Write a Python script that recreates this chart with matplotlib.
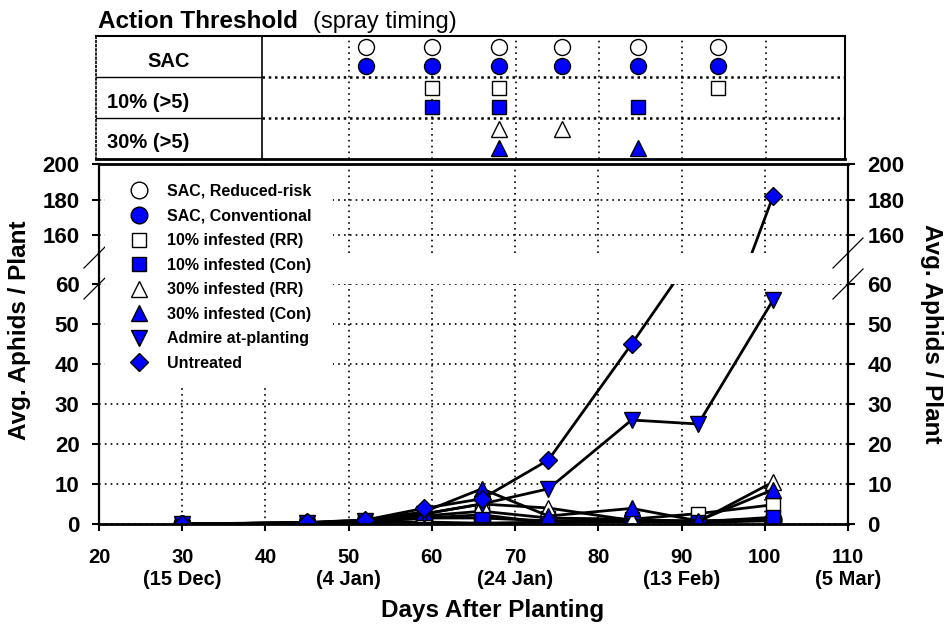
import numpy as np
import matplotlib.pyplot as plt
from matplotlib.lines import Line2D
from matplotlib.patches import Rectangle

plt.rcParams['font.family'] = ['Liberation Sans', 'DejaVu Sans']
plt.rcParams['font.weight'] = 'bold'

# sampling dates (days after planting)
days = [30, 45, 52, 59, 66, 74, 84, 92, 101]

# avg aphids per plant for each treatment
sac_rr = [0, 0.3, 0.5, 1.5, 1.5, 0.8, 1.0, 0.8, 1.2]
sac_con = [0, 0.2, 0.4, 0.5, 0.2, 0.5, 0.6, 0.4, 0.8]
ten_rr = [0, 0.3, 0.6, 2.0, 3.2, 1.5, 1.2, 2.6, 4.8]
ten_con = [0, 0.2, 0.5, 1.5, 2.3, 0.3, 0.8, 0.5, 1.7]
thirty_rr = [0, 0.3, 0.8, 2.5, 5.0, 4.0, 0.9, 0.6, 10.5]
thirty_con = [0, 0.3, 1.0, 3.0, 8.8, 2.0, 3.9, 0.8, 8.6]
admire = [0, 0.3, 0.8, 2.5, 5.0, 8.8, 26, 25, 56]
untreated = [0, 0.4, 1.0, 3.9, 6.3, 16, 45, 69, 182]

# spray timing (days after planting)
spray_sac_rr = [52, 60, 68, 75.6, 84.7, 94.3]
spray_sac_con = [52, 60, 68, 75.6, 84.7, 94.3]
spray_10_rr = [60, 68, 94.3]
spray_10_con = [60, 68, 84.7]
spray_30_rr = [68, 75.6]
spray_30_con = [68, 84.7]

xticks = [20, 30, 40, 50, 60, 70, 80, 90, 100, 110]
xticklabels = ['20', '30\n(15 Dec)', '40', '50\n(4 Jan)', '60', '70\n(24 Jan)',
               '80', '90\n(13 Feb)', '100', '110\n(5 Mar)']
row_labels = ['SAC', '10% (>5)', '30% (>5)']

BLUE = '#0000FF'
W, H = 946, 625


def fx(px):
    return px / W


def fy(py):
    return 1 - py / H


fig = plt.figure(figsize=(W / 100, H / 100), dpi=100)

ax_lo = fig.add_axes([fx(99), fy(524), (848 - 99) / W, (524 - 284) / H])
ax_hi = fig.add_axes([fx(99), fy(253), (848 - 99) / W, (253 - 164) / H])
ax_tb = fig.add_axes([fx(96), fy(159), (845 - 96) / W, (159 - 36) / H])

series = [
    (sac_rr, 'o', 'white', 12, 'SAC, Reduced-risk'),
    (sac_con, 'o', BLUE, 12, 'SAC, Conventional'),
    (ten_rr, 's', 'white', 10, '10% infested (RR)'),
    (ten_con, 's', BLUE, 10, '10% infested (Con)'),
    (thirty_rr, '^', 'white', 12, '30% infested (RR)'),
    (thirty_con, '^', BLUE, 12, '30% infested (Con)'),
    (admire, 'v', BLUE, 12, 'Admire at-planting'),
    (untreated, 'D', BLUE, 9.5, 'Untreated'),
]

grid_style = dict(color='black', linestyle=(0, (1, 2.5)), linewidth=1.2)

for ax in (ax_lo, ax_hi):
    for vals, m, fc, ms, lab in series:
        ax.plot(days, vals, color='black', lw=2, marker=m, ms=ms,
                mfc=fc, mec='black', mew=1)
    ax.set_xlim(20, 110)
    ax.set_xticks(xticks)
    ax.grid(True, **grid_style)
    for s in ax.spines.values():
        s.set_linewidth(1.6)
    ax.tick_params(axis='y', direction='out', length=5, width=1.5, labelsize=16,
                   pad=9, left=True, right=True, labelleft=True, labelright=True)

ax_lo.set_ylim(0, 60)
ax_lo.set_yticks(range(0, 61, 10))
ax_lo.spines['top'].set_visible(False)
ax_lo.spines['bottom'].set_linewidth(2)
ax_lo.set_xticklabels(xticklabels)
ax_lo.tick_params(axis='x', direction='out', length=5, width=1.5, labelsize=14.5, pad=12)

ax_hi.set_ylim(150, 200)
ax_hi.set_yticks([160, 180, 200])
ax_hi.spines['bottom'].set_visible(False)
ax_hi.spines['top'].set_linewidth(2)
ax_hi.tick_params(axis='x', bottom=False, labelbottom=False)

# broken axis marks and spine in the gap
for x in (99, 848):
    fig.add_artist(Line2D([fx(x), fx(x)], [fy(253), fy(284)], color='black', lw=1.6))
    for y in (253, 284):
        fig.add_artist(Line2D([fx(x - 15), fx(x + 15)], [fy(y + 15), fy(y - 15)],
                              color='black', lw=0.9, zorder=1.5))

# white box behind the legend
fig.add_artist(Rectangle((fx(105), fy(386)), (333 - 105) / W, (386 - 166) / H,
                         facecolor='white', edgecolor='none', zorder=2))

handles = [Line2D([], [], linestyle='none', marker=m, ms=ms, mfc=fc, mec='black', mew=1)
           for vals, m, fc, ms, lab in series]
fig.legend(handles, [s[4] for s in series], loc='upper left',
           bbox_to_anchor=(fx(124), fy(184)), frameon=False,
           prop={'size': 11.5, 'weight': 'bold'}, handlelength=1.9,
           handletextpad=0.8, labelspacing=0.6, borderpad=0, borderaxespad=0)

# spray timing table
tb_x0, tb_x1, col_x = 19.64, 109.52, 39.6
ax_tb.set_xlim(tb_x0, tb_x1)
ax_tb.set_ylim(3, 0)
ax_tb.set_xticks([])
ax_tb.set_yticks([])
ax_tb.spines['left'].set_linestyle((0, (1, 1.5)))
ax_tb.spines['left'].set_linewidth(1.2)
ax_tb.spines['top'].set_linewidth(1.5)
ax_tb.spines['right'].set_linewidth(1.5)
ax_tb.spines['bottom'].set_linewidth(2)
ax_tb.axvline(col_x, color='black', lw=1.2)
for x in range(50, 101, 10):
    ax_tb.axvline(x, **grid_style)
for y in (1, 2):
    ax_tb.plot([tb_x0, col_x], [y, y], color='black', lw=1)
    ax_tb.plot([col_x, tb_x1], [y, y], color='black', lw=1.8, linestyle=(0, (1, 1.5)))

table_rows = [
    (spray_sac_rr, spray_sac_con, 'o', 11.5),
    (spray_10_rr, spray_10_con, 's', 10),
    (spray_30_rr, spray_30_con, '^', 11.5),
]
for i, (rr, con, m, ms) in enumerate(table_rows):
    ax_tb.plot(rr, np.full(len(rr), i + 0.27), linestyle='none', marker=m, ms=ms,
               mfc='white', mec='black', mew=1, clip_on=False)
    ax_tb.plot(con, np.full(len(con), i + 0.74), linestyle='none', marker=m, ms=ms,
               mfc=BLUE, mec='black', mew=1, clip_on=False)

ax_tb.text(28.4, 0.63, row_labels[0], ha='center', va='center', fontsize=14.5)
ax_tb.text(20.96, 1.61, row_labels[1], ha='left', va='center', fontsize=14.5)
ax_tb.text(20.96, 2.6, row_labels[2], ha='left', va='center', fontsize=14.5)

fig.text(fx(98), fy(28), 'Action Threshold', fontsize=17.5, weight='bold', va='baseline')
fig.text(fx(313), fy(28), '(spray timing)', fontsize=17, weight='normal', va='baseline')

fig.text(fx(20), fy(330), 'Avg. Aphids / Plant', rotation=90, fontsize=17.5,
         ha='center', va='center')
fig.text(fx(931), fy(334), 'Avg. Aphids / Plant', rotation=270, fontsize=17.5,
         ha='center', va='center')
fig.text(fx(493), fy(617), 'Days After Planting', fontsize=17.5, ha='center',
         va='baseline')

fig.savefig('out.png', dpi=100)
